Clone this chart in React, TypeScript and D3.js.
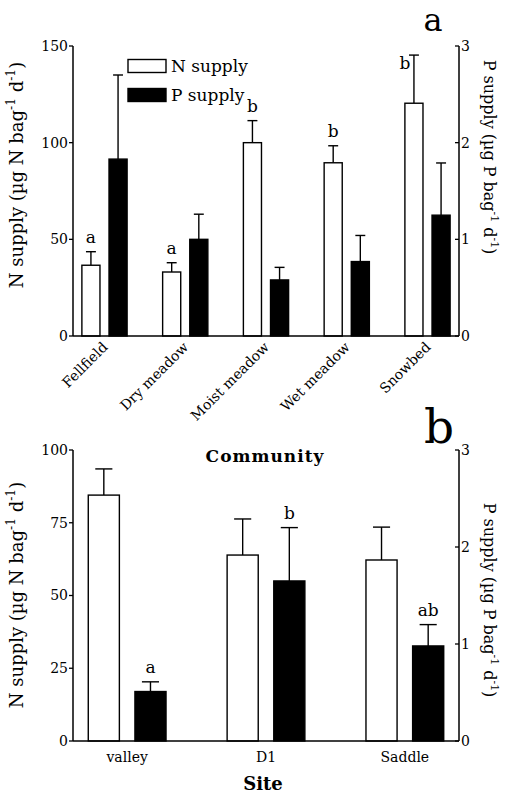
import React from "react";
import * as d3 from "d3";

// ---------- Data: panel a (community) ----------
const communities = ["Fellfield", "Dry meadow", "Moist meadow", "Wet meadow", "Snowbed"];
const nSupplyA = [36.6, 33.1, 100.0, 89.6, 120.4];
const nErrA = [7.0, 4.8, 11.4, 8.8, 24.9];
const pSupplyA = [1.83, 1.0, 0.58, 0.77, 1.25];
const pErrA = [0.87, 0.26, 0.13, 0.27, 0.54];
const lettersA = ["a", "a", "b", "b", "b"]; // on N bars
const nTicksA = [0, 50, 100, 150];
const pTicksA = [0, 1, 2, 3];

// ---------- Data: panel b (site) ----------
const sites = ["valley", "D1", "Saddle"];
const nSupplyB = [84.5, 63.9, 62.2];
const nErrB = [9.0, 12.4, 11.3];
const pSupplyB = [0.51, 1.65, 0.98];
const pErrB = [0.1, 0.55, 0.22];
const lettersB = ["a", "b", "ab"]; // on P bars
const nTicksB = [0, 25, 50, 75, 100];
const pTicksB = [0, 1, 2, 3];

const seriesKeys = ["N", "P"];
const FONT = "'DejaVu Serif', 'Liberation Serif', serif";

function UnitLabel({ el, fs }: { el: string; fs: number }) {
  const up = fs * 0.42;
  const small = fs * 0.68;
  return (
    <>
      <tspan>{`${el} supply (µg ${el} bag`}</tspan>
      <tspan dy={-up} fontSize={small}>-1</tspan>
      <tspan dy={up}>{" d"}</tspan>
      <tspan dy={-up} fontSize={small}>-1</tspan>
      <tspan dy={up}>{")"}</tspan>
    </>
  );
}

type PanelProps = {
  cats: string[];
  nVals: number[];
  nErr: number[];
  pVals: number[];
  pErr: number[];
  letters: string[];
  letterSeries: "N" | "P";
  nTicks: number[];
  pTicks: number[];
  yTop: number;
  yBase: number;
  rotateLabels: boolean;
  leftLabelY: number;
  rightLabelY: number;
};

function Panel(props: PanelProps) {
  const { cats, nVals, nErr, pVals, pErr, letters, letterSeries, nTicks, pTicks, yTop, yBase, rotateLabels, leftLabelY, rightLabelY } = props;
  const x0 = 73;
  const x1 = 459;
  const nMax = nTicks[nTicks.length - 1];
  const pMax = pTicks[pTicks.length - 1];
  const yN = d3.scaleLinear().domain([0, nMax]).range([yBase, yTop]);
  const yP = d3.scaleLinear().domain([0, pMax]).range([yBase, yTop]);
  const xg = d3.scalePoint<string>().domain(cats).range([x0, x1]).padding(0.39);
  const half = xg.step() * 0.28;
  const xs = d3.scaleBand<string>().domain(seriesKeys).range([-half, half]).paddingInner(1 / 3).paddingOuter(0);
  const bw = xs.bandwidth();
  const cap = bw * 0.55;

  const bars: any[] = [];
  cats.forEach((c, i) => {
    [
      { k: "N", v: nVals[i], e: nErr[i], y: yN, fill: "#fff" },
      { k: "P", v: pVals[i], e: pErr[i], y: yP, fill: "#000" },
    ].forEach((s) => {
      const bx = (xg(c) as number) + (xs(s.k) as number);
      const cx = bx + bw / 2;
      const top = s.y(s.v);
      const etop = s.y(s.v + s.e);
      bars.push(
        <g key={c + s.k}>
          <line x1={cx} x2={cx} y1={top} y2={etop} stroke="#000" strokeWidth={1.4} />
          <line x1={cx - cap / 2} x2={cx + cap / 2} y1={etop} y2={etop} stroke="#000" strokeWidth={1.4} />
          <rect x={bx} y={top} width={bw} height={yBase - top} fill={s.fill} stroke="#000" strokeWidth={1.4} />
        </g>
      );
      if (s.k === letterSeries) {
        let lx = cx;
        let ly = etop - 9;
        if (ly < yTop + 14) {
          lx = bx;
          ly = etop + 14;
        }
        bars.push(
          <text key={c + "lab"} x={lx} y={ly} textAnchor="middle" fontSize={17}>
            {letters[i]}
          </text>
        );
      }
    });
  });

  return (
    <g fontFamily={FONT} fill="#000">
      {bars}
      {/* axes */}
      <line x1={x0} x2={x0} y1={yTop} y2={yBase} stroke="#000" strokeWidth={1.5} />
      <line x1={x1} x2={x1} y1={yTop} y2={yBase} stroke="#000" strokeWidth={1.5} />
      <line x1={x0} x2={x1} y1={yBase} y2={yBase} stroke="#000" strokeWidth={1.5} />
      {nTicks.map((t) => (
        <g key={"nt" + t}>
          <line x1={x0 - 4} x2={x0} y1={yN(t)} y2={yN(t)} stroke="#000" strokeWidth={1.3} />
          <text x={x0 - 5} y={yN(t)} dy="0.35em" textAnchor="end" fontSize={14}>
            {t}
          </text>
        </g>
      ))}
      {pTicks.map((t) => (
        <g key={"pt" + t}>
          <line x1={x1 - 4} x2={x1} y1={yP(t)} y2={yP(t)} stroke="#000" strokeWidth={1.3} />
          <text x={x1 + 2} y={yP(t)} dy="0.35em" textAnchor="start" fontSize={14}>
            {t}
          </text>
        </g>
      ))}
      {cats.map((c) =>
        rotateLabels ? (
          <text
            key={"cl" + c}
            transform={`translate(${(xg(c) as number) + 4},${yBase + 12}) rotate(-45)`}
            textAnchor="end"
            fontSize={14}
          >
            {c}
          </text>
        ) : (
          <text key={"cl" + c} x={xg(c) as number} y={yBase + 21} textAnchor="middle" fontSize={14}>
            {c}
          </text>
        )
      )}
      <text transform={`translate(23,${leftLabelY}) rotate(-90)`} textAnchor="middle" fontSize={18}>
        <UnitLabel el="N" fs={18} />
      </text>
      <text transform={`translate(484,${rightLabelY}) rotate(90)`} textAnchor="middle" fontSize={16}>
        <UnitLabel el="P" fs={16} />
      </text>
    </g>
  );
}

export default function App() {
  return (
    <svg
      width={510}
      height={793}
      style={{ position: "absolute", left: 0, top: 0, background: "#fff" }}
      fontFamily={FONT}
    >
      <rect width={510} height={793} fill="#fff" />
      <Panel
        cats={communities}
        nVals={nSupplyA}
        nErr={nErrA}
        pVals={pSupplyA}
        pErr={pErrA}
        letters={lettersA}
        letterSeries="N"
        nTicks={nTicksA}
        pTicks={pTicksA}
        yTop={46}
        yBase={336}
        rotateLabels={true}
        leftLabelY={175}
        rightLabelY={157}
      />
      {/* legend */}
      <rect x={128} y={59.5} width={38} height={13} fill="#fff" stroke="#000" strokeWidth={1.4} />
      <rect x={128} y={88.5} width={38} height={13} fill="#000" stroke="#000" strokeWidth={1.4} />
      <text x={171} y={72} fontSize={17}>N supply</text>
      <text x={171} y={101} fontSize={17}>P supply</text>
      <text x={433} y={31} textAnchor="middle" fontSize={32}>a</text>
      <text x={265} y={462} textAnchor="middle" fontSize={17} fontWeight="bold" letterSpacing={1}>
        Community
      </text>

      <Panel
        cats={sites}
        nVals={nSupplyB}
        nErr={nErrB}
        pVals={pSupplyB}
        pErr={pErrB}
        letters={lettersB}
        letterSeries="P"
        nTicks={nTicksB}
        pTicks={pTicksB}
        yTop={450}
        yBase={741}
        rotateLabels={false}
        leftLabelY={595}
        rightLabelY={600}
      />
      <text x={439} y={443} textAnchor="middle" fontSize={47}>b</text>
      <text x={263} y={790} textAnchor="middle" fontSize={18} fontWeight="bold">Site</text>
    </svg>
  );
}
